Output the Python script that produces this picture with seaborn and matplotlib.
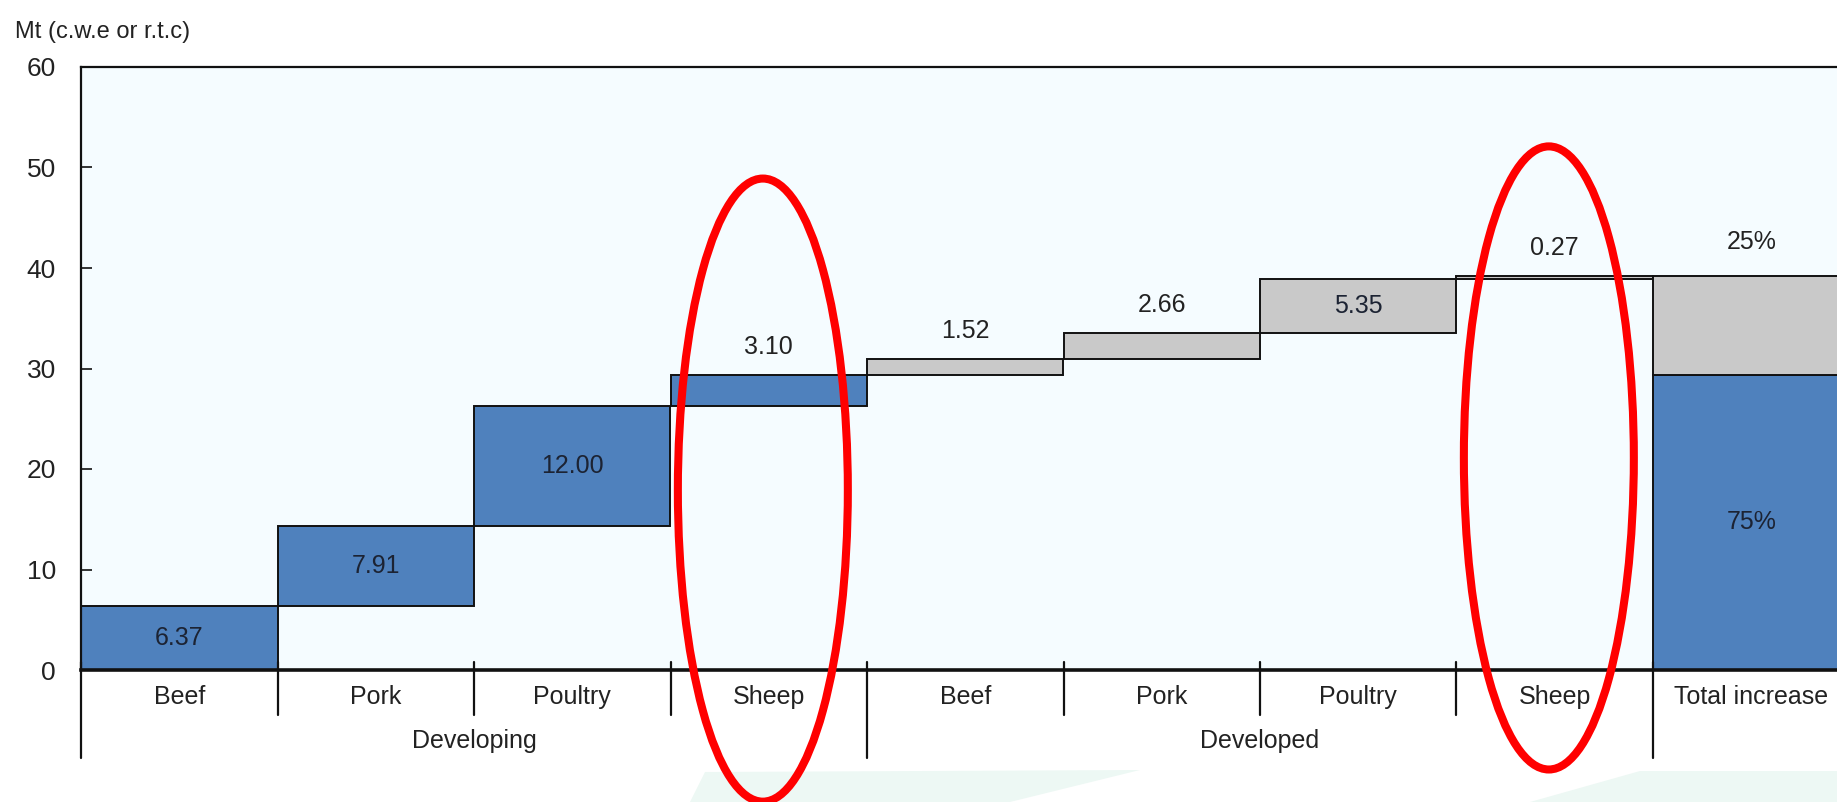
import numpy as np
import pandas as pd
import matplotlib
matplotlib.use('Agg')
import matplotlib.pyplot as plt
import seaborn as sns
from matplotlib.patches import Ellipse, Polygon

# data (Mt, c.w.e or r.t.c)
groups = ['Developing', 'Developed']
meats = ['Beef', 'Pork', 'Poultry', 'Sheep']
developing = [6.37, 7.91, 12.00, 3.10]
developed = [1.52, 2.66, 5.35, 0.27]
total_label = 'Total increase'
share_labels = ['75%', '25%']
y_ticks = [0, 10, 20, 30, 40, 50, 60]

BLUE = '#4F81BD'
GREY = '#C9C9C9'
BG = '#F5FCFF'
TXT = '#222222'

sns.set_theme(style='white')
plt.rcParams['font.family'] = ['Liberation Sans Narrow', 'Liberation Sans', 'DejaVu Sans']
FS = 18

# waterfall geometry
steps = developing + developed
tops = np.cumsum(steps)
bottoms = tops - np.array(steps)
keys = [f'{g} {m}' for g in groups for m in meats] + [total_label]
dev_total = sum(developing)
grand_total = tops[-1]

blue_df = pd.DataFrame({
    'key': keys[:4] + [total_label],
    'value': developing + [dev_total],
    'bottom': list(bottoms[:4]) + [0.0],
})
grey_df = pd.DataFrame({
    'key': keys[4:8] + [total_label],
    'value': developed + [grand_total - dev_total],
    'bottom': list(bottoms[4:]) + [dev_total],
})

fig = plt.figure(figsize=(18.37, 8.02), dpi=100)
ax = fig.add_axes([81 / 1837, 132 / 802, 1768.5 / 1837, 603 / 802])
ax.set_facecolor(BG)

for df, col in [(blue_df, BLUE), (grey_df, GREY)]:
    sns.barplot(data=df, x='key', y='value', order=keys, bottom=df['bottom'].values,
                width=1, color=col, saturation=1, edgecolor='#111111', linewidth=1.4,
                errorbar=None, ax=ax, zorder=2)

ax.set_xlim(-0.5, len(keys) - 0.5)
ax.set_ylim(0, 60)
ax.set_yticks(y_ticks)
ax.set_xlabel('')
ax.set_ylabel('')
ax.tick_params(axis='y', direction='in', length=8, width=1.2, color='#111111',
               pad=18, labelsize=FS + 1, labelcolor=TXT, left=True)
ax.set_xticks(range(len(keys)))
ax.set_xticklabels(meats * 2 + [total_label], fontsize=FS, color=TXT)
ax.tick_params(axis='x', length=0, pad=11)
for side in ['left', 'top', 'right']:
    ax.spines[side].set_color('#111111')
    ax.spines[side].set_linewidth(1.6)
ax.spines['bottom'].set_color('#111111')
ax.spines['bottom'].set_linewidth(2.6)

# value labels
for i, (v, b) in enumerate(zip(steps, bottoms)):
    if v > 4:
        ax.text(i, b + v / 2, f'{v:.2f}', ha='center', va='center', fontsize=FS, color='#1c2333', zorder=5)
    else:
        ax.text(i, b + v + 2.8, f'{v:.2f}', ha='center', va='center', fontsize=FS, color=TXT, zorder=5)
ti = len(keys) - 1
ax.text(ti, dev_total / 2, share_labels[0], ha='center', va='center', fontsize=FS, color='#1c2333', zorder=5)
ax.text(ti, grand_total + 3.4, share_labels[1], ha='center', va='center', fontsize=FS, color=TXT, zorder=5)

# category separators and group labels under the axis
tr = ax.get_xaxis_transform()
for k in range(len(keys) - 1):
    edge = k + 0.5
    if edge in (3.5, 7.5):
        continue
    ax.plot([edge, edge], [0.013, -0.075], color='#111111', lw=1.6, transform=tr, clip_on=False)
for edge in (-0.5, 3.5, 7.5):
    ax.plot([edge, edge], [0.013, -0.146], color='#111111', lw=1.6, transform=tr, clip_on=False)
for gi, g in enumerate(groups):
    ax.text(gi * 4 + 1.5, -0.118, g, transform=tr, ha='center', va='center', fontsize=FS, color=TXT)

fig.text(15 / 1837, 1 - 32 / 802, 'Mt (c.w.e or r.t.c)', ha='left', va='center', fontsize=FS - 1, color=TXT)

# red highlight ellipses around the sheep columns
for gi in range(len(groups)):
    xi = gi * 4 + meats.index('Sheep') - 0.03
    yc = 17.9 if gi == 0 else 21.1
    ax.add_patch(Ellipse((xi, yc), width=0.865, height=62, fill=False, edgecolor='#FF0000',
                         lw=5.8, clip_on=False, zorder=10))

# faint watermark shapes along the bottom
for pts in [[(690, 802), (705, 772), (1140, 770), (1010, 802)],
            [(1530, 802), (1640, 771), (1837, 771), (1837, 802)]]:
    fig.patches.append(Polygon([(x / 1837, 1 - y / 802) for x, y in pts], closed=True,
                               transform=fig.transFigure, facecolor='#EDF8F4', edgecolor='none', zorder=-1))

fig.savefig('out.png', dpi=100)
